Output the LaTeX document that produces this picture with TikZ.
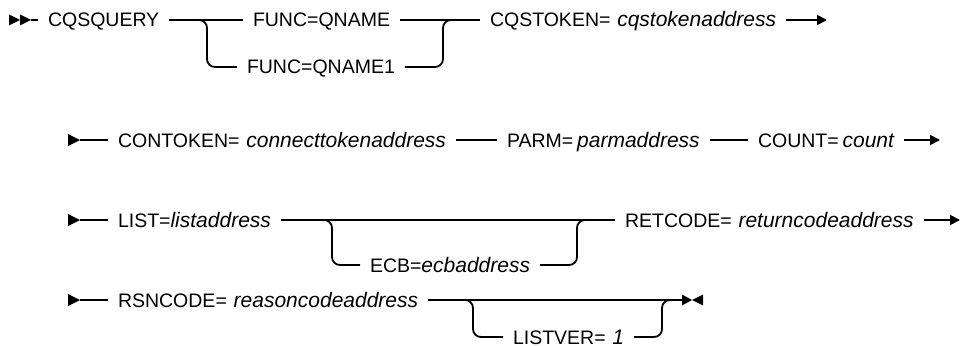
\documentclass[tikz,border=0pt]{standalone}
\usepackage{fontspec}
\setmainfont{Liberation Sans}
\usetikzlibrary{arrows.meta}
\newcommand{\vv}[1]{{\fontsize{21}{21}\selectfont\itshape #1}}
\begin{document}
\begin{tikzpicture}[x=1pt,y=-1pt,line width=1.8pt,
  lbl/.style={anchor=west, inner xsep=0pt, inner ysep=0pt, outer xsep=10pt,
    text height=14pt, text depth=0pt, font=\fontsize{19.5}{20}\selectfont},
  tip/.style={-{Triangle[length=10pt,width=10pt]}},
  br/.style={rounded corners=8pt}]
\useasboundingbox (0,0) rectangle (960,345);
% ---------- row 1 ----------
\fill (9,14.5) -- (20,20) -- (9,25.5) -- cycle;
\fill (20,14.5) -- (31,20) -- (20,25.5) -- cycle;
\coordinate (s1) at (31,20);
\node[lbl] (cqs) at (38,20) {CQSQUERY};
\node[lbl] (fq) at (243,20) {FUNC=QNAME};
\node[lbl] (fq1) at (237,67) {FUNC=QNAME1};
\node[lbl] (cqt) at (480,20) {CQSTOKEN=\hspace{0.35em}\vv{cqstokenaddress}};
\coordinate (b1) at (197,20);
\coordinate (j1) at (453,20);
\coordinate (e1) at (827,20);
\draw (s1) -- (cqs.west);
\draw (cqs.east) -- (fq.west);
\draw[br] (b1) -| (207,67) -- (fq1.west);
\draw[br] (fq1.east) -| (443,20) -- (j1);
\draw (fq.east) -- (cqt.west);
\draw[tip] (cqt.east) -- (e1);
% ---------- row 2 ----------
\fill (68,134) -- (80,140) -- (68,146) -- cycle;
\coordinate (s2) at (80,140);
\node[lbl] (cont) at (108,140) {CONTOKEN=\hspace{0.35em}\vv{connecttokenaddress}};
\node[lbl] (parm) at (497,140) {PARM=\hspace{0.2em}\vv{parmaddress}};
\node[lbl] (cnt) at (748,140) {COUNT=\hspace{0.2em}\vv{count}};
\coordinate (e2) at (940,140);
\draw (s2) -- (cont.west);
\draw (cont.east) -- (parm.west);
\draw (parm.east) -- (cnt.west);
\draw[tip] (cnt.east) -- (e2);
% ---------- row 3 ----------
\fill (68,214) -- (80,220) -- (68,226) -- cycle;
\coordinate (s3) at (80,220);
\node[lbl] (list) at (108,220) {LIST=\vv{listaddress}};
\node[lbl] (ecb) at (360,265) {ECB=\vv{ecbaddress}};
\node[lbl] (ret) at (615,220) {RETCODE=\hspace{0.35em}\vv{returncodeaddress}};
\coordinate (b3) at (322,220);
\coordinate (j3) at (587,220);
\coordinate (e3) at (960,220);
\draw (s3) -- (list.west);
\draw (list.east) -- (ret.west);
\draw[br] (b3) -| (332,265) -- (ecb.west);
\draw[br] (ecb.east) -| (577,220) -- (j3);
\draw[tip] (ret.east) -- (e3);
% ---------- row 4 ----------
\fill (68,294) -- (80,300) -- (68,306) -- cycle;
\coordinate (s4) at (80,300);
\node[lbl] (rsn) at (108,300) {RSNCODE=\hspace{0.35em}\vv{reasoncodeaddress}};
\node[lbl] (lv) at (503,337) {LISTVER=\hspace{0.35em}\vv{1}};
\coordinate (b4) at (463,300);
\coordinate (j4) at (672,300);
\coordinate (e4) at (682,300);
\draw (s4) -- (rsn.west);
\draw (rsn.east) -- (e4);
\draw[br] (b4) -| (473,337) -- (lv.west);
\draw[br] (lv.east) -| (662,300) -- (j4);
\fill (682,294.5) -- (692,300) -- (682,305.5) -- cycle;
\fill (703,294.5) -- (692,300) -- (703,305.5) -- cycle;
\end{tikzpicture}
\end{document}
